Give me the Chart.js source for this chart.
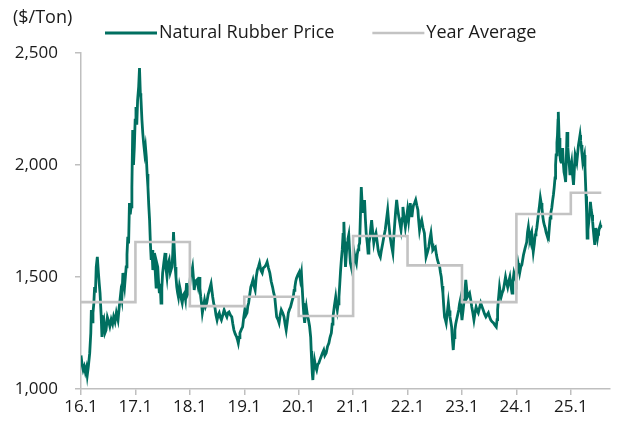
<!DOCTYPE html>
<html>
<head>
<meta charset="utf-8">
<script src="https://cdn.jsdelivr.net/npm/chart.js@4.4.0/dist/chart.umd.min.js"></script>
<style>
  html, body { margin: 0; padding: 0; background: #ffffff; }
  #wrap { width: 619px; height: 423px; position: relative; }
</style>
</head>
<body>
<div id="wrap"><canvas id="rubberChart"></canvas></div>
<script>
const priceDates = [
  2016.00, 2016.02, 2016.04, 2016.06, 2016.08, 2016.10, 2016.115, 2016.135, 2016.16, 2016.18,
  2016.19, 2016.205, 2016.22, 2016.235, 2016.25, 2016.265, 2016.28, 2016.30, 2016.32, 2016.335,
  2016.35, 2016.37, 2016.385, 2016.40, 2016.42, 2016.44, 2016.46, 2016.485, 2016.51, 2016.53,
  2016.555, 2016.58, 2016.60, 2016.625, 2016.65, 2016.68, 2016.70, 2016.73, 2016.75, 2016.77,
  2016.785, 2016.80, 2016.815, 2016.83, 2016.845, 2016.86, 2016.875, 2016.89, 2016.905, 2016.92,
  2016.935, 2016.95, 2016.965, 2016.98, 2016.995, 2017.01, 2017.025, 2017.04, 2017.06, 2017.075,
  2017.09, 2017.10, 2017.12, 2017.135, 2017.15, 2017.17, 2017.185, 2017.20, 2017.215, 2017.23,
  2017.245, 2017.26, 2017.275, 2017.29, 2017.305, 2017.32, 2017.335, 2017.35, 2017.365, 2017.38,
  2017.395, 2017.41, 2017.425, 2017.44, 2017.455, 2017.47, 2017.485, 2017.50, 2017.52, 2017.545,
  2017.56, 2017.58, 2017.60, 2017.62, 2017.64, 2017.67, 2017.685, 2017.70, 2017.715, 2017.73,
  2017.745, 2017.76, 2017.775, 2017.79, 2017.81, 2017.825, 2017.845, 2017.86, 2017.88, 2017.90,
  2017.92, 2017.94, 2017.955, 2017.97, 2017.99, 2018.01, 2018.03, 2018.05, 2018.065, 2018.08,
  2018.10, 2018.13, 2018.15, 2018.17, 2018.185, 2018.20, 2018.215, 2018.23, 2018.25, 2018.27,
  2018.29, 2018.31, 2018.335, 2018.36, 2018.39, 2018.42, 2018.44, 2018.46, 2018.48, 2018.50,
  2018.52, 2018.54, 2018.56, 2018.58, 2018.605, 2018.63, 2018.655, 2018.68, 2018.70, 2018.72,
  2018.745, 2018.77, 2018.79, 2018.81, 2018.835, 2018.86, 2018.875, 2018.89, 2018.905, 2018.92,
  2018.945, 2018.97, 2018.99, 2019.01, 2019.03, 2019.05, 2019.065, 2019.08, 2019.10, 2019.12,
  2019.14, 2019.16, 2019.18, 2019.20, 2019.22, 2019.24, 2019.26, 2019.28, 2019.305, 2019.33,
  2019.35, 2019.375, 2019.40, 2019.42, 2019.445, 2019.47, 2019.495, 2019.52, 2019.54, 2019.56,
  2019.58, 2019.595, 2019.62, 2019.64, 2019.66, 2019.68, 2019.705, 2019.73, 2019.75, 2019.77,
  2019.79, 2019.81, 2019.83, 2019.85, 2019.875, 2019.90, 2019.915, 2019.93, 2019.945, 2019.96,
  2019.985, 2020.01, 2020.03, 2020.05, 2020.065, 2020.08, 2020.095, 2020.11, 2020.125, 2020.14,
  2020.16, 2020.18, 2020.20, 2020.22, 2020.23, 2020.24, 2020.25, 2020.26, 2020.275, 2020.29,
  2020.31, 2020.33, 2020.35, 2020.37, 2020.39, 2020.41, 2020.435, 2020.46, 2020.48, 2020.505,
  2020.53, 2020.555, 2020.575, 2020.60, 2020.615, 2020.63, 2020.655, 2020.68, 2020.695, 2020.71,
  2020.725, 2020.74, 2020.755, 2020.77, 2020.785, 2020.80, 2020.815, 2020.83, 2020.845, 2020.86,
  2020.875, 2020.89, 2020.905, 2020.92, 2020.935, 2020.95, 2020.97, 2020.99, 2021.005, 2021.02,
  2021.04, 2021.06, 2021.075, 2021.09, 2021.105, 2021.12, 2021.135, 2021.15, 2021.165, 2021.18,
  2021.195, 2021.21, 2021.225, 2021.24, 2021.26, 2021.275, 2021.29, 2021.31, 2021.325, 2021.34,
  2021.36, 2021.38, 2021.40, 2021.42, 2021.44, 2021.46, 2021.48, 2021.50, 2021.52, 2021.545,
  2021.565, 2021.59, 2021.61, 2021.635, 2021.655, 2021.68, 2021.705, 2021.73, 2021.745, 2021.76,
  2021.78, 2021.80, 2021.82, 2021.84, 2021.86, 2021.88, 2021.90, 2021.915, 2021.935, 2021.96,
  2021.98, 2022.00, 2022.02, 2022.05, 2022.065, 2022.08, 2022.095, 2022.11, 2022.13, 2022.15,
  2022.17, 2022.19, 2022.205, 2022.22, 2022.24, 2022.26, 2022.285, 2022.31, 2022.325, 2022.34,
  2022.365, 2022.39, 2022.41, 2022.43, 2022.45, 2022.465, 2022.49, 2022.51, 2022.53, 2022.55,
  2022.57, 2022.59, 2022.605, 2022.62, 2022.635, 2022.65, 2022.665, 2022.68, 2022.695, 2022.71,
  2022.73, 2022.75, 2022.765, 2022.78, 2022.795, 2022.81, 2022.825, 2022.84, 2022.855, 2022.87,
  2022.885, 2022.90, 2022.92, 2022.94, 2022.955, 2022.97, 2022.985, 2023.00, 2023.02, 2023.04,
  2023.055, 2023.07, 2023.085, 2023.10, 2023.12, 2023.14, 2023.16, 2023.18, 2023.20, 2023.22,
  2023.24, 2023.26, 2023.28, 2023.30, 2023.32, 2023.345, 2023.365, 2023.39, 2023.415, 2023.44,
  2023.46, 2023.485, 2023.51, 2023.53, 2023.555, 2023.58, 2023.605, 2023.63, 2023.645, 2023.655,
  2023.67, 2023.69, 2023.705, 2023.72, 2023.74, 2023.76, 2023.78, 2023.80, 2023.82, 2023.84,
  2023.86, 2023.88, 2023.90, 2023.92, 2023.935, 2023.955, 2023.975, 2023.99, 2024.01, 2024.03,
  2024.045, 2024.06, 2024.08, 2024.10, 2024.13, 2024.16, 2024.19, 2024.205, 2024.22, 2024.235,
  2024.25, 2024.265, 2024.28, 2024.295, 2024.31, 2024.33, 2024.345, 2024.36, 2024.375, 2024.39,
  2024.41, 2024.425, 2024.44, 2024.455, 2024.47, 2024.485, 2024.50, 2024.515, 2024.53, 2024.545,
  2024.56, 2024.575, 2024.59, 2024.605, 2024.62, 2024.635, 2024.65, 2024.665, 2024.68, 2024.695,
  2024.71, 2024.72, 2024.73, 2024.745, 2024.755, 2024.765, 2024.77, 2024.785, 2024.80, 2024.81,
  2024.82, 2024.835, 2024.85, 2024.862, 2024.875, 2024.89, 2024.905, 2024.92, 2024.93, 2024.945,
  2024.96, 2024.975, 2024.985, 2025.00, 2025.015, 2025.03, 2025.05, 2025.065, 2025.08, 2025.095,
  2025.11, 2025.125, 2025.14, 2025.155, 2025.17, 2025.18, 2025.19, 2025.205, 2025.22, 2025.235,
  2025.25, 2025.26, 2025.27, 2025.28, 2025.29, 2025.30, 2025.315, 2025.33, 2025.345, 2025.36,
  2025.375, 2025.39, 2025.40, 2025.41, 2025.425, 2025.44, 2025.45, 2025.46, 2025.475, 2025.49,
  2025.50, 2025.51, 2025.525, 2025.54, 2025.55, 2025.56
];
const priceValues = [
  1150, 1110, 1085, 1100, 1075, 1095, 1062, 1100, 1160, 1250,
  1353, 1300, 1340, 1380, 1455, 1430, 1545, 1590, 1518, 1470,
  1428, 1330, 1232, 1290, 1308, 1250, 1263, 1320, 1300, 1280,
  1310, 1290, 1322, 1300, 1340, 1308, 1360, 1428, 1400, 1518,
  1480, 1455, 1500, 1545, 1600, 1679, 1650, 1830, 1780, 1813,
  1900, 2156, 2000, 2080, 2200, 2259, 2180, 2290, 2350, 2433,
  2320, 2304, 2200, 2143, 2100, 2054, 2080, 2036, 1960, 1902,
  1820, 1754, 1650, 1576, 1620, 1531, 1580, 1607, 1520, 1455,
  1560, 1545, 1480, 1428, 1470, 1384, 1450, 1518, 1560, 1607,
  1540, 1500, 1560, 1576, 1520, 1545, 1600, 1701, 1620, 1545,
  1500, 1455, 1430, 1411, 1460, 1442, 1400, 1384, 1420, 1428,
  1400, 1473, 1420, 1428, 1440, 1500, 1520, 1545, 1500, 1442,
  1480, 1487, 1460, 1500, 1450, 1411, 1380, 1340, 1370, 1397,
  1370, 1384, 1420, 1442, 1470, 1411, 1380, 1366, 1330, 1308,
  1330, 1340, 1320, 1308, 1330, 1353, 1335, 1322, 1340, 1344,
  1330, 1322, 1290, 1263, 1245, 1232, 1220, 1205, 1230, 1250,
  1265, 1277, 1320, 1353, 1330, 1340, 1370, 1384, 1420, 1455,
  1470, 1487, 1460, 1442, 1500, 1531, 1545, 1562, 1530, 1518,
  1540, 1545, 1555, 1567, 1540, 1518, 1480, 1455, 1430, 1411,
  1360, 1322, 1310, 1295, 1330, 1353, 1340, 1322, 1290, 1263,
  1300, 1340, 1355, 1366, 1390, 1411, 1440, 1455, 1480, 1495,
  1510, 1522, 1490, 1518, 1450, 1384, 1330, 1295, 1340, 1366,
  1330, 1308, 1280, 1232, 1170, 1116, 1070, 1040, 1100, 1129,
  1100, 1085, 1110, 1116, 1130, 1143, 1160, 1174, 1150, 1161,
  1190, 1205, 1230, 1250, 1290, 1322, 1370, 1411, 1380, 1353,
  1380, 1411, 1470, 1531, 1580, 1621, 1690, 1746, 1640, 1545,
  1600, 1652, 1670, 1688, 1620, 1562, 1540, 1518, 1570, 1607,
  1580, 1562, 1600, 1621, 1640, 1652, 1780, 1902, 1830, 1786,
  1820, 1844, 1760, 1696, 1650, 1607, 1650, 1679, 1720, 1754,
  1700, 1652, 1680, 1696, 1660, 1621, 1600, 1589, 1620, 1652,
  1680, 1710, 1750, 1799, 1740, 1679, 1640, 1607, 1670, 1723,
  1790, 1844, 1800, 1768, 1740, 1710, 1760, 1813, 1770, 1723,
  1760, 1799, 1754, 1830, 1790, 1768, 1800, 1821, 1830, 1844,
  1820, 1799, 1750, 1710, 1740, 1754, 1720, 1696, 1640, 1589,
  1610, 1634, 1670, 1696, 1650, 1621, 1630, 1634, 1600, 1576,
  1560, 1545, 1520, 1500, 1460, 1428, 1370, 1322, 1310, 1295,
  1340, 1384, 1350, 1322, 1300, 1277, 1220, 1174, 1230, 1263,
  1290, 1308, 1330, 1353, 1380, 1397, 1350, 1308, 1350, 1397,
  1440, 1487, 1450, 1411, 1420, 1428, 1400, 1366, 1340, 1308,
  1340, 1366, 1350, 1340, 1360, 1384, 1370, 1353, 1335, 1322,
  1330, 1340, 1320, 1308, 1300, 1295, 1285, 1277, 1310, 1353,
  1400, 1455, 1430, 1411, 1430, 1442, 1470, 1500, 1475, 1455,
  1480, 1500, 1460, 1428, 1480, 1518, 1500, 1487, 1522, 1562,
  1540, 1518, 1545, 1554, 1598, 1629, 1656, 1700, 1723, 1690,
  1674, 1690, 1701, 1650, 1612, 1650, 1688, 1700, 1719, 1750,
  1790, 1820, 1853, 1830, 1808, 1770, 1746, 1730, 1719, 1700,
  1688, 1680, 1674, 1720, 1763, 1790, 1808, 1840, 1866, 1900,
  1942, 2000, 2045, 2100, 2134, 2200, 2237, 2120, 2045, 2020,
  2013, 2050, 2076, 2010, 1969, 1950, 1924, 2050, 2147, 2080,
  2031, 1990, 1955, 1990, 2013, 1960, 1911, 1980, 2045, 2030,
  2013, 2050, 2089, 2110, 2134, 2110, 2089, 2050, 2013, 2030,
  2045, 1990, 1924, 1860, 1790, 1674, 1710, 1746, 1790, 1835,
  1800, 1777, 1750, 1719, 1680, 1643, 1680, 1719, 1700, 1674,
  1690, 1701, 1720, 1732, 1720, 1719
];

const yearStarts = [2016, 2017, 2018, 2019, 2020, 2021, 2022, 2023, 2024, 2025];
const yearAverages = [1388, 1656, 1370, 1412, 1326, 1683, 1552, 1388, 1781, 1876];

const tickLabels = ['16.1', '17.1', '18.1', '19.1', '20.1', '21.1', '22.1', '23.1', '24.1', '25.1'];
const yTickValues = [1000, 1500, 2000, 2500];

const cores = {
    preco: '#006f60',
    media: '#c3c3c3',
    eixo: '#bfbfbf',
    texto: '#1a1a1a'
};
const fonte = "'Open Sans', 'DejaVu Sans', sans-serif";

const lastDate = priceDates[priceDates.length - 1];

const precoPontos = priceDates.map((d, i) => ({ x: d, y: priceValues[i] }));
const mediaPontos = yearStarts.map((yr, i) => ({ x: yr, y: yearAverages[i] }));
mediaPontos.push({ x: lastDate, y: yearAverages[yearAverages.length - 1] });

// unit label + line-style legend drawn on top
const legendaPlugin = {
    id: 'legendaLinhas',
    afterDraw(chart) {
        const ctx = chart.ctx;
        ctx.save();
        ctx.font = '18px ' + fonte;
        ctx.fillStyle = cores.texto;
        ctx.textBaseline = 'middle';
        ctx.textAlign = 'left';
        ctx.fillText('($/Ton)', 13, 18);

        const y = 33;
        let x = 105;
        chart.data.datasets.forEach((ds) => {
            ctx.strokeStyle = ds.borderColor;
            ctx.lineWidth = ds.borderWidth;
            ctx.beginPath();
            ctx.moveTo(x, y);
            ctx.lineTo(x + 52, y);
            ctx.stroke();
            x += 54;
            ctx.fillStyle = cores.texto;
            ctx.fillText(ds.label, x, y);
            x += ctx.measureText(ds.label).width + 38;
        });
        ctx.restore();
    }
};

new Chart(document.getElementById('rubberChart'), {
    type: 'line',
    data: {
        datasets: [
            {
                label: 'Natural Rubber Price',
                data: precoPontos,
                borderColor: cores.preco,
                borderWidth: 2.8,
                pointRadius: 0,
                tension: 0,
                order: 1
            },
            {
                label: 'Year Average',
                data: mediaPontos,
                borderColor: cores.media,
                borderWidth: 2.6,
                pointRadius: 0,
                stepped: 'before',
                order: 0
            }
        ]
    },
    options: {
        responsive: true,
        maintainAspectRatio: false,
        animation: false,
        layout: { padding: { top: 53, right: 9, bottom: 0, left: 0 } },
        plugins: {
            legend: { display: false },
            tooltip: { enabled: false }
        },
        scales: {
            x: {
                type: 'linear',
                min: 2016,
                max: 2025.72,
                afterFit: (scale) => { scale.height = 34; },
                afterBuildTicks: (scale) => {
                    scale.ticks = tickLabels.map((_, i) => ({ value: yearStarts[i] }));
                },
                grid: { drawOnChartArea: false, drawTicks: true, tickLength: 6, color: cores.eixo, lineWidth: 1.5 },
                border: { color: cores.eixo, width: 1.5 },
                ticks: {
                    color: cores.texto,
                    font: { family: fonte, size: 17 },
                    padding: 2,
                    maxRotation: 0,
                    autoSkip: false,
                    callback: (value, index) => tickLabels[index]
                }
            },
            y: {
                min: 1000,
                max: 2500,
                afterFit: (scale) => { scale.width = 81; },
                afterBuildTicks: (scale) => {
                    scale.ticks = yTickValues.map((v) => ({ value: v }));
                },
                grid: { drawOnChartArea: false, drawTicks: true, tickLength: 6, color: cores.eixo, lineWidth: 1.5 },
                border: { color: cores.eixo, width: 1.5 },
                ticks: {
                    color: cores.texto,
                    font: { family: fonte, size: 17 },
                    padding: 17,
                    callback: (value) => value.toLocaleString('en-US')
                }
            }
        }
    },
    plugins: [legendaPlugin]
});
</script>
</body>
</html>
